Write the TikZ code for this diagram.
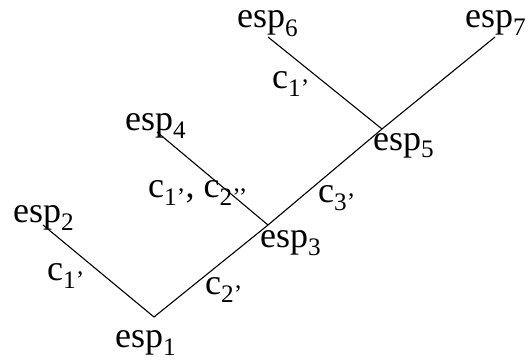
\documentclass[tikz,border=0pt]{standalone}
\usepackage{fontspec}
\setmainfont{Liberation Serif}
\begin{document}
\begin{tikzpicture}[x=1pt, y=-1pt]
  \tikzstyle{species} = [inner sep=0pt, anchor=base west, font=\fontsize{36}{40}\selectfont]
  \tikzstyle{charlabel} = [inner sep=0pt, anchor=base west, font=\fontsize{36}{40}\selectfont]
  \tikzstyle{branch} = [line width=1.1pt]
  \useasboundingbox (0,0) rectangle (529,361);

  % Tips and junctions
  \coordinate (t2) at (43,225);
  \coordinate (t4) at (157,132);
  \coordinate (t6) at (268,37);
  \coordinate (t7) at (495,37);
  \coordinate (j1) at (154,317);
  \coordinate (j3) at (268,225);
  \coordinate (j5) at (382,129);

  % Species
  \node [species] (esp1) at (115,347) {esp\textsubscript{1}};
  \node [species] (esp2) at (13,222) {esp\textsubscript{2}};
  \node [species] (esp3) at (260,247) {esp\textsubscript{3}};
  \node [species] (esp4) at (125,130) {esp\textsubscript{4}};
  \node [species] (esp5) at (373,150) {esp\textsubscript{5}};
  \node [species] (esp6) at (237,28) {esp\textsubscript{6}};
  \node [species] (esp7) at (465,28) {esp\textsubscript{7}};

  % Characters on branches
  \node [charlabel] (c12) at (47,280) {c\textsubscript{1’}};
  \node [charlabel] (c21) at (205,294) {c\textsubscript{2’}};
  \node [charlabel] (c14) at (148,197) {c\textsubscript{1’}, c\textsubscript{2’’}};
  \node [charlabel] (c35) at (318,202) {c\textsubscript{3’}};
  \node [charlabel] (c16) at (272,88) {c\textsubscript{1’}};

  % Branches
  \draw [branch] (t2) -- (j1);
  \draw [branch] (j1) -- (j3);
  \draw [branch] (t4) -- (j3);
  \draw [branch] (j3) -- (j5);
  \draw [branch] (t6) -- (j5);
  \draw [branch] (j5) -- (t7);

\end{tikzpicture}
\end{document}
